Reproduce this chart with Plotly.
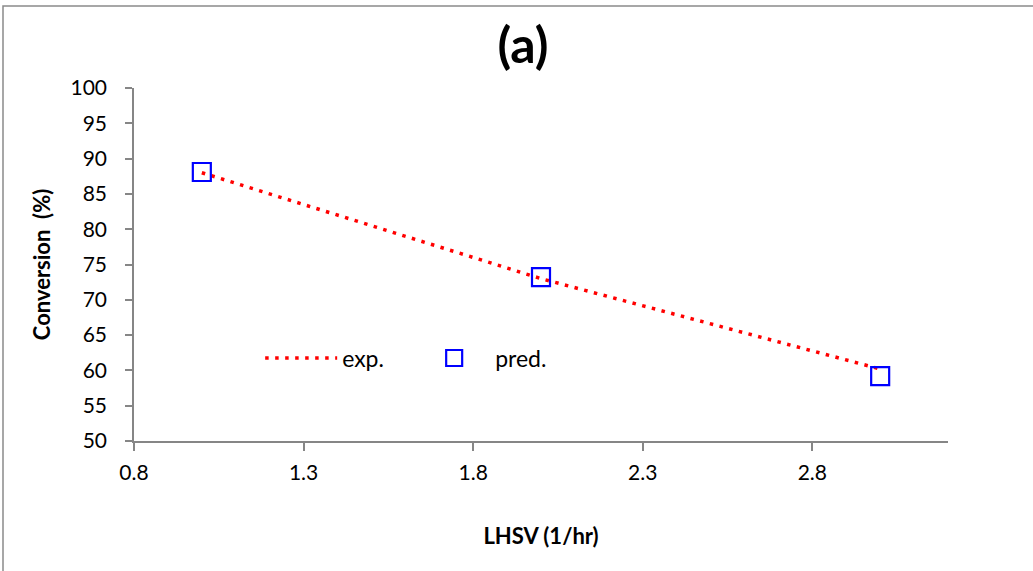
import plotly.graph_objects as go

lhsv = [1, 2, 3]
exp_conv = [88.0, 73.0, 60.2]
pred_conv = [88.1, 73.2, 59.2]
x_ticks = [0.8, 1.3, 1.8, 2.3, 2.8]
y_ticks = [50, 55, 60, 65, 70, 75, 80, 85, 90, 95, 100]

FONT = "Lato"

fig = go.Figure()
fig.add_trace(go.Scatter(
    x=lhsv, y=exp_conv, name="exp.", mode="lines",
    line=dict(color="#ff0000", width=3.5, dash="3.5px,6.5px"),
))
fig.add_trace(go.Scatter(
    x=lhsv, y=pred_conv, name="pred.", mode="markers",
    marker=dict(symbol="square-open", size=18, color="#0000ff",
                line=dict(width=2.2, color="#0000ff")),
))

axis_col = "#868686"
fig.update_layout(
    width=1033, height=571,
    margin=dict(l=134, r=85, t=88, b=130),
    paper_bgcolor="white", plot_bgcolor="white",
    font=dict(family=FONT, size=20, color="black"),
    title=dict(text="<b>(a)</b>", x=(523 - 134) / 814, xanchor="center",
               xref="paper", y=1 - 45 / 571, yref="container",
               yanchor="middle",
               font=dict(family=FONT, size=50, color="black")),
    xaxis=dict(range=[0.8, 3.2], tickvals=x_ticks,
               ticktext=[str(v) for v in x_ticks],
               showgrid=False, zeroline=False, showline=True,
               linecolor=axis_col, linewidth=1.5, ticks="outside",
               tickcolor=axis_col, ticklen=8, tickwidth=1.5,
               ticklabelstandoff=4,
               tickfont=dict(family=FONT, size=21),
               title=dict(text="<b>LHSV (1/hr)</b>", standoff=46,
                          font=dict(family=FONT, size=22))),
    yaxis=dict(range=[50, 100], tickvals=y_ticks,
               showgrid=False, zeroline=False, showline=True,
               linecolor=axis_col, linewidth=1.5, ticks="outside",
               tickcolor=axis_col, ticklen=7, tickwidth=1.5,
               ticklabelstandoff=14,
               tickfont=dict(family=FONT, size=21),
               title=dict(text="<b>Conversion  (%)</b>", standoff=14,
                          font=dict(family=FONT, size=22))),
    legend=dict(orientation="h", x=0.155, y=0.235, xanchor="left",
                yanchor="middle", bgcolor="rgba(0,0,0,0)",
                font=dict(family=FONT, size=23),
                entrywidth=66, entrywidthmode="pixels", itemwidth=72),
    shapes=[dict(type="rect", xref="paper", yref="paper",
                 x0=(3 - 134) / 814, x1=1.2, y0=-0.5, y1=1 + (88 - 6) / 353,
                 line=dict(color="#8a8a8a", width=1.5), layer="below")],
)

fig.write_html("out.html")
